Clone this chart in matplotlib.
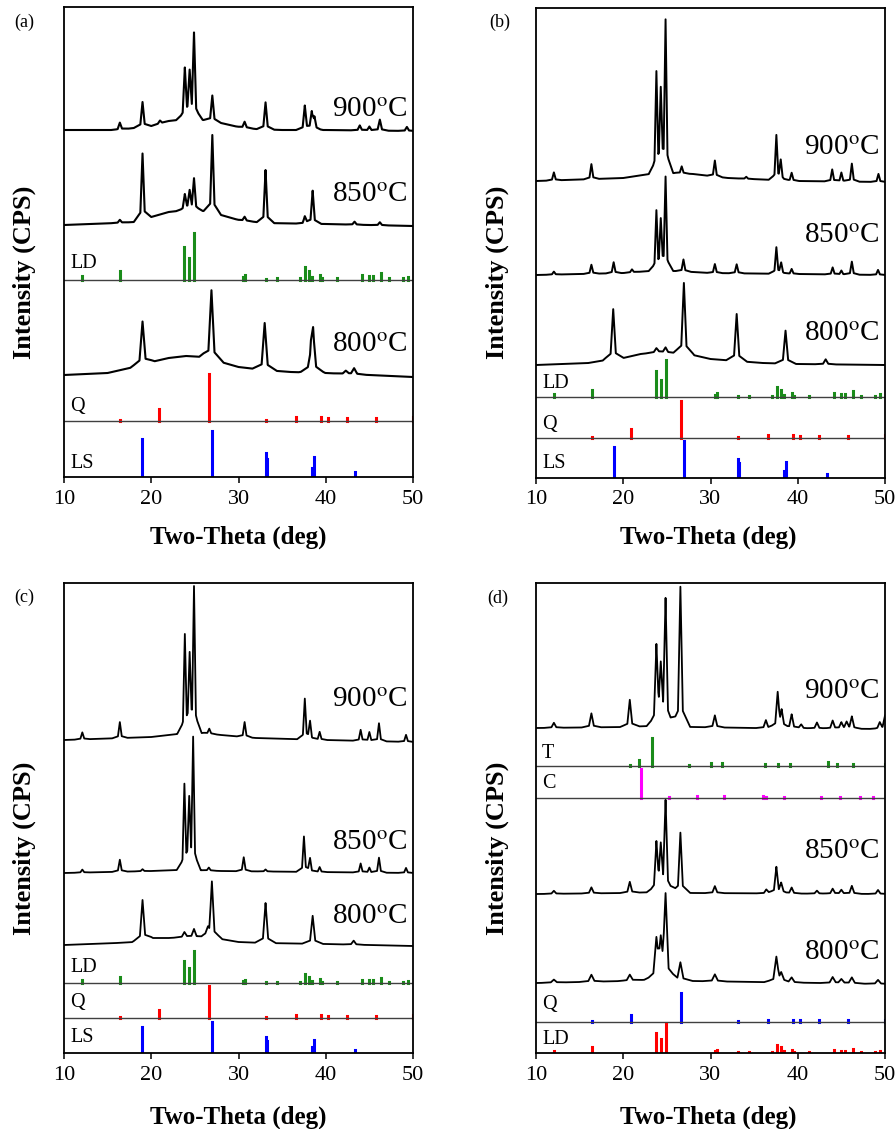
import numpy as np
import matplotlib
matplotlib.use('Agg')
import matplotlib.pyplot as plt

plt.rcParams['font.family'] = ['Liberation Serif', 'DejaVu Serif']
plt.rcParams['mathtext.fontset'] = 'stix'

########################################################################################
# Patrones de referencia (posicion 2theta, intensidad relativa %)
########################################################################################
LD_POS = [12.1, 16.4, 23.8, 24.3, 24.9, 30.5, 30.8, 33.2, 34.4, 37.1, 37.6, 38.1, 38.4,
          39.3, 39.6, 41.3, 44.1, 45.0, 45.4, 46.3, 47.3, 48.9, 49.4]
LD_INT = [8, 19, 70, 47, 100, 6, 10, 3, 4, 4, 28, 19, 6, 11, 4, 4, 10, 8, 8, 15, 4, 4, 7]

Q_POS = [16.4, 20.85, 26.65, 33.2, 36.55, 39.45, 40.3, 42.45, 45.8, 50.0]
Q_INT = [3, 25, 100, 2, 8, 8, 6, 6, 6, 8]

LS_POS = [18.9, 27.0, 33.1, 33.3, 38.45, 38.6, 43.3]
LS_INT = [83, 100, 52, 40, 20, 43, 11]

T_POS = [20.75, 21.75, 23.35, 27.5, 30.1, 31.3, 36.2, 37.7, 39.1, 43.5, 44.5, 46.3, 50.0]
T_INT = [4, 22, 100, 4, 10, 10, 7, 7, 7, 14, 6, 7, 7]

C_POS = [22.0, 25.3, 28.4, 31.5, 36.0, 36.4, 38.4, 42.7, 44.8, 47.1, 48.6]
C_INT = [100, 3, 6, 6, 8, 5, 3, 4, 4, 5, 5]

########################################################################################
# Difractogramas medidos: fondo (fx, fy) y picos (px, ph), leidos de la figura
########################################################################################
# (a)
a900_fx = [10, 16, 18, 20, 22, 24, 26, 28, 30, 32, 35, 40, 50]
a900_fy = [0, 0, 2, 4, 9, 11, 10, 7, 3, 1, 0, 0, -1]
a900_px = [16.4, 19.0, 21.0, 23.85, 24.4, 24.9, 27.0, 30.7, 33.1, 37.6, 38.4, 38.7, 43.9, 45.0, 46.2, 49.3]
a900_ph = [7, 25, 3, 49, 40, 84, 26, 6, 27, 24, 17, 12, 5, 4, 11, 4]

a850_fx = [10, 16, 18, 20, 22, 24, 26, 28, 30, 33, 40, 50]
a850_fy = [0, 2, 3, 8, 13, 15, 14, 10, 5, 2, 1, -1]
a850_px = [16.4, 19.0, 23.85, 24.4, 24.9, 27.0, 30.7, 33.1, 37.6, 38.5, 43.3, 46.2]
a850_ph = [3, 66, 15, 17, 31, 78, 4, 53, 7, 33, 3, 3]

a800_fx = [10, 15, 18, 20, 22, 24, 26, 28, 30, 33, 36, 40, 50]
a800_fy = [0, 2, 8, 13, 17, 19, 18, 13, 8, 5, 3, 2, -2]
a800_px = [19.0, 26.9, 33.0, 38.3, 38.55, 42.3, 43.25]
a800_ph = [43, 69, 47, 18, 39, 3, 6]

# (b)
b900_fx = [10, 20, 23, 26, 28, 32, 40, 50]
b900_fy = [0, 3, 7, 8, 7, 3, 0, -1]
b900_px = [12.05, 16.35, 23.8, 24.3, 24.85, 26.7, 30.5, 34.1, 37.55, 38.05, 39.3, 43.95, 45.0, 46.2, 49.25]
b900_ph = [8, 15, 98, 72, 150, 7, 16, 2, 44, 18, 8, 12, 9, 18, 8]

b850_fx = [10, 20, 23, 26, 30, 40, 50]
b850_fy = [0, 2, 4, 4, 2, 1, 0]
b850_px = [12.05, 16.35, 18.9, 21.0, 23.8, 24.3, 24.85, 26.9, 30.5, 33.0, 37.55, 38.1, 39.3,
           44.0, 45.0, 46.2, 49.2]
b850_ph = [3, 9, 11, 3, 58, 44, 92, 12, 9, 9, 26, 10, 5, 7, 4, 13, 5]

b800_fx = [10, 16, 18, 20, 22, 24, 26, 28, 30, 33, 36, 40, 50]
b800_fy = [0, 2, 5, 7, 11, 13, 12, 10, 6, 4, 2, 1, 0]
b800_px = [18.85, 23.8, 24.85, 26.95, 33.0, 38.6, 43.2]
b800_ph = [50, 4, 5, 71, 47, 33, 5]

# (c)
c900_fx = [10, 20, 23, 26, 28, 32, 40, 50]
c900_fy = [0, 3, 6, 7, 5, 2, 0, -2]
c900_px = [12.1, 16.4, 23.85, 24.4, 24.9, 26.65, 30.7, 37.6, 38.2, 39.3, 44.0, 45.0, 46.1, 49.2]
c900_ph = [7, 16, 96, 67, 143, 5, 15, 40, 17, 8, 11, 9, 18, 7]

c850_fx = [10, 20, 23, 25, 28, 50]
c850_fy = [0, 2, 3, 3, 2, 0]
c850_px = [12.1, 16.4, 19.0, 23.8, 24.35, 24.8, 26.6, 30.6, 33.1, 37.5, 38.2, 39.3, 44.0, 45.0, 46.1, 49.2]
c850_ph = [3, 12, 2, 83, 60, 129, 3, 14, 2, 35, 13, 5, 9, 5, 15, 5]

c800_fx = [10, 16, 18, 20, 22, 24, 26, 28, 30, 33, 40, 50]
c800_fy = [0, 2, 3, 7, 7, 8, 8, 6, 3, 2, 1, -1]
c800_px = [19.0, 23.8, 24.9, 26.5, 26.95, 33.1, 38.5, 43.2]
c800_ph = [40, 5, 8, 6, 56, 40, 28, 4]

# (d)
d900_fx = [10, 20, 23, 28, 35, 50]
d900_fy = [0, 1, 2, 1, 0, -1]
d900_px = [12.05, 16.35, 20.75, 23.8, 24.3, 24.85, 26.55, 30.5, 36.35, 37.7, 38.15, 39.3, 40.4,
           42.2, 44.0, 45.0, 45.6, 46.2, 49.4, 50.0]
d900_ph = [5, 14, 27, 77, 49, 124, 140, 12, 8, 35, 16, 14, 4, 6, 8, 6, 6, 12, 6, 13]

d850_fx = [10, 20, 24, 28, 50]
d850_fy = [0, 1, 2, 1, 0]
d850_px = [12.05, 16.35, 20.75, 23.8, 24.3, 24.85, 26.55, 30.5, 36.4, 37.55, 38.1, 39.3, 42.2,
           44.0, 45.0, 46.2, 49.2]
d850_ph = [3, 6, 11, 47, 39, 89, 60, 7, 4, 26, 9, 6, 3, 5, 4, 8, 4]

d800_fx = [10, 20, 24, 28, 50]
d800_fy = [0, 2, 4, 2, -1]
d800_px = [12.05, 16.35, 20.75, 23.8, 24.3, 24.85, 26.55, 30.5, 37.55, 38.1, 39.3, 44.0, 45.0, 46.2, 49.2]
d800_ph = [3, 7, 6, 36, 33, 82, 18, 7, 25, 8, 5, 6, 4, 6, 4]

TICKS = [10, 20, 30, 40, 50]
VERDE = '#1a8c1a'
ROJO = '#ff0000'
AZUL = '#0000ff'
MAGENTA = '#ff00ff'

W, H = 896, 1129
ALTO = 470  # alto de cada panel en pixeles (unidades del eje y)


def perfil(fx, fy, px, ph, w):
    '''
    Arma la linea de un difractograma
    :param fx, fy: vertices del fondo
    :param px, ph: posicion y altura de cada pico
    :param w: semiancho del pico (grados)
    :return: x, y de la poligonal
    '''
    xs = list(fx)
    for p in px:
        xs += [p - 4 * w, p - w, p, p + w, p + 4 * w]
    xs = np.array(sorted(set(round(v, 4) for v in xs if 10 <= v <= 50)))
    ys = np.interp(xs, fx, fy).astype(float)
    for p, h in zip(px, ph):
        d = np.abs(xs - p)
        ys += 0.85 * h * np.clip(1 - d / w, 0, None) + 0.15 * h * np.clip(1 - d / (4 * w), 0, None)
    return xs, ys


def eje(left, top):
    '''crea un panel a partir de su esquina superior izquierda en pixeles'''
    ax = fig.add_axes([left / W, (H - top - ALTO) / H, 349 / W, ALTO / H])
    ax.set_xlim(10, 50)
    ax.set_ylim(0, ALTO)
    ax.set_yticks([])
    ax.set_xticks(TICKS)
    ax.tick_params(axis='x', direction='out', length=4, width=1.1, labelsize=16, pad=5)
    for s in ax.spines.values():
        s.set_linewidth(1.3)
    return ax


def traza(ax, datos, base, w, lw, texto, ytexto):
    x, y = perfil(*datos, w)
    ax.plot(x, y + base, color='black', lw=lw)
    ax.text(49.4, ytexto, texto, ha='right', va='center', fontsize=21)


def barras(ax, pos, inten, base, escala, color, nombre, ytexto, linea=True):
    alto = np.array(inten) / 100 * escala
    lc = ax.vlines(pos, base, base + alto, color=color, lw=2.2)
    lc.set_capstyle('projecting')
    if linea:
        ax.axhline(base, color='#404040', lw=1.0)
    ax.text(10.7, ytexto, nombre, ha='left', va='center', fontsize=14.5)


def grados(t):
    return t + r'$^{\rm o}$C'


fig = plt.figure(figsize=(W / 100, H / 100), dpi=100)

# (a)
ax = eje(64, 7)
traza(ax, (a900_fx, a900_fy, a900_px, a900_ph), 347, 0.25, 1.5, grados('900'), 367)
traza(ax, (a850_fx, a850_fy, a850_px, a850_ph), 252, 0.25, 1.5, grados('850'), 282)
traza(ax, (a800_fx, a800_fy, a800_px, a800_ph), 102, 0.35, 1.5, grados('800'), 132)
barras(ax, LD_POS, LD_INT, 197, 47, VERDE, 'LD', 214)
barras(ax, Q_POS, Q_INT, 56, 47, ROJO, 'Q', 70)
barras(ax, LS_POS, LS_INT, 0, 46, AZUL, 'LS', 14, linea=False)

# (b)
ax = eje(536, 8)
traza(ax, (b900_fx, b900_fy, b900_px, b900_ph), 297, 0.22, 1.4, grados('900'), 330)
traza(ax, (b850_fx, b850_fy, b850_px, b850_ph), 203, 0.22, 1.4, grados('850'), 242)
traza(ax, (b800_fx, b800_fy, b800_px, b800_ph), 113, 0.3, 1.4, grados('800'), 144)
barras(ax, LD_POS, LD_INT, 81, 37, VERDE, 'LD', 94)
barras(ax, Q_POS, Q_INT, 40, 37, ROJO, 'Q', 54)
barras(ax, LS_POS, LS_INT, 0, 37, AZUL, 'LS', 14, linea=False)

# (c)
ax = eje(64, 583)
traza(ax, (c900_fx, c900_fy, c900_px, c900_ph), 313, 0.22, 1.3, grados('900'), 353)
traza(ax, (c850_fx, c850_fy, c850_px, c850_ph), 180, 0.22, 1.3, grados('850'), 210)
traza(ax, (c800_fx, c800_fy, c800_px, c800_ph), 108, 0.3, 1.3, grados('800'), 136)
barras(ax, LD_POS, LD_INT, 70, 32, VERDE, 'LD', 86)
barras(ax, Q_POS, Q_INT, 35, 32, ROJO, 'Q', 50)
barras(ax, LS_POS, LS_INT, 0, 31, AZUL, 'LS', 16, linea=False)

# (d)
ax = eje(536, 583)
traza(ax, (d900_fx, d900_fy, d900_px, d900_ph), 325, 0.28, 1.3, grados('900'), 361)
traza(ax, (d850_fx, d850_fy, d850_px, d850_ph), 159, 0.28, 1.3, grados('850'), 201)
traza(ax, (d800_fx, d800_fy, d800_px, d800_ph), 70, 0.35, 1.3, grados('800'), 100)
barras(ax, T_POS, T_INT, 287, 28, VERDE, 'T', 300)
barras(ax, C_POS, C_INT, 255, 29, MAGENTA, 'C', 270)
barras(ax, Q_POS, Q_INT, 31, 29, AZUL, 'Q', 48)
barras(ax, LD_POS, LD_INT, 0, 29, ROJO, 'LD', 14, linea=False)

# textos de los ejes y letras de panel
for cx, cy, letra in [(24, 22, '(a)'), (500, 22, '(b)'), (24, 597, '(c)'), (498, 598, '(d)')]:
    fig.text(cx / W, 1 - cy / H, letra, ha='center', va='center', fontsize=13)
for cx, cy in [(24, 272), (497, 272), (24, 848), (497, 848)]:
    fig.text(cx / W, 1 - cy / H, 'Intensity (CPS)', ha='center', va='center',
             rotation=90, fontsize=19, fontweight='bold')
for cx, cy in [(238, 537), (708, 537), (238, 1117), (708, 1117)]:
    fig.text(cx / W, 1 - cy / H, 'Two-Theta (deg)', ha='center', va='center',
             fontsize=18, fontweight='bold')

fig.savefig('out.png', dpi=100)
